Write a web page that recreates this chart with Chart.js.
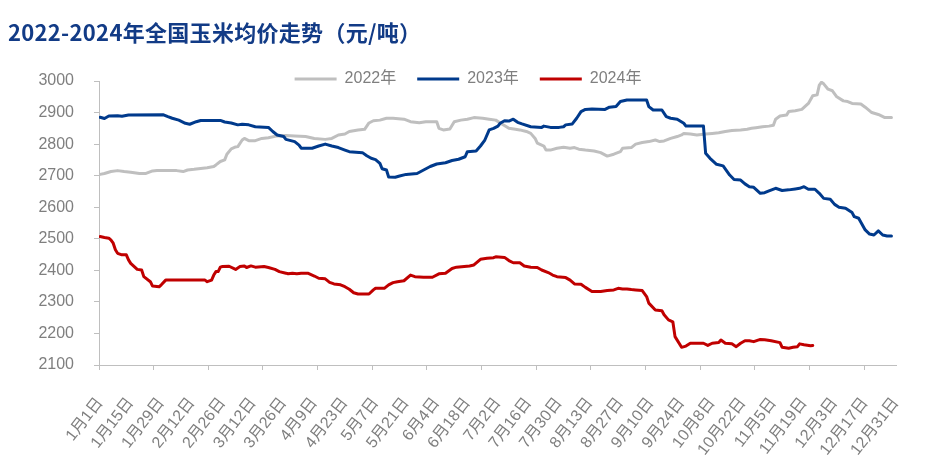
<!DOCTYPE html>
<html lang="zh-CN">
<head>
<meta charset="utf-8">
<title>2022-2024年全国玉米均价走势</title>
<script src="https://cdn.jsdelivr.net/npm/chart.js@4.4.1/dist/chart.umd.min.js"></script>
<style>
    html, body { margin: 0; padding: 0; background: #fff; }
    #wrap { position: relative; width: 935px; height: 472px; overflow: hidden; }
    #grafico { position: absolute; left: 0; top: 0; }
    #titulo {
        position: absolute; left: 8px; top: 20px;
        font: bold 22px/22px 'Noto Sans CJK SC', sans-serif;
        letter-spacing: 0.3px;
        color: #123B86; white-space: nowrap;
    }
</style>
</head>
<body>
<div id="wrap">
    <canvas id="grafico" width="935" height="472"></canvas>
    <div id="titulo">2022-2024年全国玉米均价走势（元/吨）</div>
</div>
<script>
// x labels, one every 14 days (day 0 = 1月1日)
const tickLabels = ['1月1日','1月15日','1月29日','2月12日','2月26日','3月12日','3月26日','4月9日','4月23日','5月7日','5月21日','6月4日','6月18日','7月2日','7月16日','7月30日','8月13日','8月27日','9月10日','9月24日','10月8日','10月22日','11月5日','11月19日','12月3日','12月17日','12月31日'];
const seriesNames = ['2022年', '2023年', '2024年'];

// day of year -> price (元/吨)
const days2022 = [0,2,5,8,11,14,18,21,24,26,35,38,40,43,46,49,52,53,55,57,58,60,62,63,65,66,68,71,74,77,81,85,89,94,98,103,106,109,112,114,118,121,123,125,128,131,134,139,142,146,149,154,155,157,160,162,165,168,171,175,178,181,184,187,190,192,195,197,199,200,203,204,206,209,212,215,217,219,222,226,229,232,235,238,239,243,245,248,251,254,256,258,261,264,266,267,270,273,277,280,283,286,289,293,296,298,300,303,306,308,309,311,314,315,318,321,324,326,328,329,330,331,333,335,337,340,342,344,348,350,353,356,359,362];
const price2022 = [2704,2707,2713,2716,2713,2711,2707,2707,2715,2716,2716,2713,2718,2720,2723,2725,2729,2734,2745,2750,2768,2785,2791,2792,2813,2818,2811,2811,2818,2820,2826,2827,2826,2824,2818,2815,2818,2829,2832,2840,2845,2847,2867,2874,2876,2882,2882,2879,2871,2868,2871,2871,2850,2845,2848,2871,2876,2879,2884,2882,2879,2876,2863,2850,2847,2845,2840,2834,2818,2803,2794,2781,2781,2787,2790,2787,2789,2784,2781,2778,2773,2762,2768,2776,2787,2789,2800,2805,2808,2813,2808,2810,2818,2824,2829,2834,2832,2829,2832,2834,2836,2840,2843,2845,2847,2850,2852,2855,2857,2860,2879,2889,2892,2903,2906,2910,2929,2953,2956,2987,2996,2991,2974,2969,2950,2937,2935,2929,2927,2917,2900,2894,2884,2884];

const days2023 = [0,2,4,8,10,13,29,31,33,36,39,41,44,46,55,57,60,63,65,68,71,77,79,81,84,85,89,91,92,97,100,103,106,109,112,114,120,122,124,126,128,129,131,132,135,137,140,145,148,151,154,158,161,164,167,168,172,174,176,178,180,182,183,185,187,189,191,193,197,202,203,206,210,212,213,216,218,220,222,225,231,233,236,238,241,250,251,253,257,259,261,264,267,268,276,277,279,282,285,288,290,293,295,297,299,302,304,306,309,312,315,318,320,322,324,327,329,331,334,336,338,341,344,345,347,350,352,354,356,358,360,362];
const price2023 = [2885,2881,2889,2890,2888,2892,2893,2887,2882,2876,2866,2863,2871,2875,2875,2870,2867,2861,2863,2861,2855,2853,2840,2829,2824,2815,2808,2797,2787,2787,2794,2800,2794,2789,2781,2776,2773,2763,2755,2751,2739,2722,2718,2696,2695,2699,2704,2707,2718,2729,2737,2741,2748,2752,2760,2776,2778,2794,2813,2845,2850,2857,2866,2874,2873,2879,2869,2864,2855,2853,2857,2853,2853,2855,2861,2864,2882,2903,2910,2911,2910,2917,2919,2935,2940,2940,2919,2908,2908,2887,2882,2879,2866,2857,2857,2771,2755,2736,2731,2702,2688,2686,2674,2665,2663,2644,2646,2652,2660,2653,2655,2658,2660,2665,2657,2657,2644,2628,2625,2609,2600,2597,2583,2570,2565,2528,2515,2512,2525,2512,2509,2509];

const days2024 = [0,2,4,5,6,7,8,10,12,13,14,17,19,20,23,24,27,28,30,33,48,49,51,52,53,54,55,56,59,62,64,66,67,69,71,75,77,80,82,85,86,88,90,92,95,98,100,103,105,107,110,112,114,116,118,123,125,126,130,132,134,136,139,142,144,148,152,155,158,161,163,169,171,174,177,180,181,185,187,189,192,194,197,200,202,205,207,209,213,215,217,220,222,225,229,232,235,237,239,241,243,245,248,250,251,254,257,258,260,262,263,266,268,270,276,278,280,283,284,286,289,291,293,295,297,299,301,302,304,307,311,312,315,317,319,320,322,325,326];
const price2024 = [2507,2504,2502,2496,2486,2465,2454,2449,2449,2433,2422,2403,2401,2380,2364,2350,2348,2354,2369,2369,2369,2364,2369,2385,2396,2396,2410,2412,2413,2403,2412,2414,2409,2414,2410,2412,2409,2403,2396,2391,2389,2391,2389,2391,2391,2382,2375,2373,2362,2357,2354,2348,2340,2329,2325,2325,2338,2343,2343,2354,2361,2364,2367,2385,2380,2378,2378,2389,2391,2406,2410,2414,2417,2435,2438,2440,2443,2441,2431,2424,2424,2414,2410,2409,2401,2393,2385,2380,2377,2369,2357,2356,2346,2333,2333,2336,2338,2343,2341,2341,2339,2338,2336,2317,2296,2274,2272,2259,2243,2237,2190,2156,2160,2169,2169,2162,2169,2171,2179,2169,2167,2158,2169,2177,2177,2174,2179,2181,2180,2177,2171,2156,2153,2156,2158,2167,2164,2161,2162];

const yMin = 2100, yMax = 3000, yStep = 100;

const eixoCor = '#BFBFBF';
const textoCor = '#7F7F7F';
const fonteBase = "'Liberation Sans', 'Noto Sans CJK SC', sans-serif";

const PAD_TOP = 46;     // top of the layout
const AREA_TOP = 81;    // where the plot (3000) starts
const LEGEND_TOP = 50;  // where the legend is drawn

function pontos(days, prices) {
    return days.map((d, i) => ({ x: d, y: prices[i] }));
}

document.addEventListener('DOMContentLoaded', () => {
    desenharGrafico();
});

function desenharGrafico() {
    const ctx = document.getElementById('grafico').getContext('2d');

    // legend overlaps the space above the plot: reserve less, draw it where it belongs
    const legendaCompacta = {
        id: 'legendaCompacta',
        beforeLayout(chart) {
            const lg = chart.legend;
            if (lg && !lg._patched) {
                const fit = lg.fit;
                lg.fit = function () {
                    fit.call(this);
                    this._fullH = this.height;
                    this.height = AREA_TOP - PAD_TOP;
                };
                lg._patched = true;
            }
        },
        afterLayout(chart) {
            const lg = chart.legend;
            if (!lg) return;
            lg.top = LEGEND_TOP;
            lg.height = lg._fullH;
            lg.bottom = LEGEND_TOP + lg._fullH;
        }
    };

    const linha = (label, data, cor, ordem) => ({
        label, data, order: ordem,
        borderColor: cor, backgroundColor: cor,
        borderWidth: 3, pointRadius: 0, tension: 0,
        borderJoinStyle: 'round', borderCapStyle: 'round'
    });

    new Chart(ctx, {
        type: 'line',
        data: {
            datasets: [
                linha(seriesNames[0], pontos(days2022, price2022), '#BFBFBF', 3),
                linha(seriesNames[1], pontos(days2023, price2023), '#003A8C', 2),
                linha(seriesNames[2], pontos(days2024, price2024), '#C00000', 1)
            ]
        },
        plugins: [legendaCompacta],
        options: {
            responsive: false,
            animation: false,
            devicePixelRatio: 1,
            layout: { padding: { left: 38, right: 37, top: PAD_TOP, bottom: 0 } },
            plugins: {
                tooltip: { enabled: false },
                title: { display: false },
                legend: {
                    position: 'top',
                    labels: {
                        usePointStyle: true,
                        pointStyle: 'line',
                        pointStyleWidth: 42,
                        padding: 21,
                        color: textoCor,
                        font: { family: fonteBase, size: 16 },
                        sort: (a, b) => a.datasetIndex - b.datasetIndex
                    }
                }
            },
            scales: {
                x: {
                    type: 'linear',
                    min: -0.5,
                    max: 364.5,
                    afterBuildTicks: (scale) => {
                        const t = [];
                        tickLabels.forEach((_, i) => t.push({ value: i * 14 }));
                        for (let v = -0.5; v < 364; v += 25) t.push({ value: v });
                        t.sort((a, b) => a.value - b.value);
                        scale.ticks = t;
                    },
                    afterFit: (scale) => { scale.height = 107; },
                    ticks: {
                        autoSkip: false,
                        minRotation: 52,
                        maxRotation: 52,
                        padding: 24,
                        color: textoCor,
                        font: { family: fonteBase, size: 16 },
                        callback: (v) => (Number.isInteger(v) && v % 14 === 0) ? tickLabels[v / 14] : ''
                    },
                    grid: {
                        drawOnChartArea: false,
                        tickLength: 5,
                        color: (c) => (c.tick && !Number.isInteger(c.tick.value)) ? eixoCor : 'rgba(0,0,0,0)'
                    },
                    border: { color: eixoCor, width: 1 }
                },
                y: {
                    min: yMin,
                    max: yMax,
                    afterFit: (scale) => { scale.width = 61; },
                    ticks: {
                        stepSize: yStep,
                        padding: 20,
                        color: textoCor,
                        font: { family: fonteBase, size: 16 },
                        callback: (v) => String(v)
                    },
                    grid: { drawOnChartArea: false, tickLength: 5, color: eixoCor },
                    border: { color: eixoCor, width: 1 }
                }
            }
        }
    });
}
</script>
</body>
</html>
